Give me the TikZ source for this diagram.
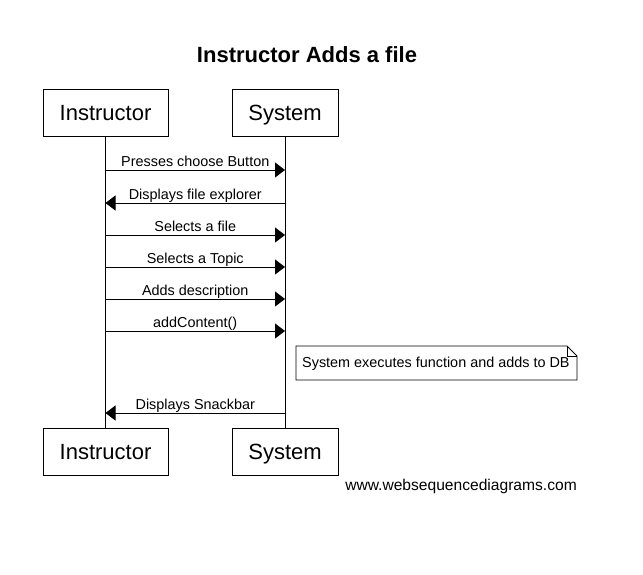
\documentclass[tikz,border=0pt]{standalone}
\usepackage{fontspec}
\setmainfont{Liberation Sans}
\usetikzlibrary{arrows.meta}
\begin{document}
\begin{tikzpicture}[x=1pt,y=-1pt,
  actor/.style={draw,line width=0.9pt,minimum height=47pt,font=\fontsize{22}{24}\selectfont,inner sep=0pt,text height=15pt,text depth=0pt},
  life/.style={line width=0.9pt},
  msg/.style={line width=0.9pt,-{Triangle[length=10pt,width=15pt]}},
  lbl/.style={font=\fontsize{14.4}{16}\selectfont,inner sep=0pt,anchor=base}]
\useasboundingbox (0,0) rectangle (643,574);
\node[font=\bfseries\fontsize{22}{24}\selectfont,anchor=base] (title) at (307,62) {Instructor Adds a file};
\node[actor,minimum width=125pt] (it) at (105.5,112.5) {Instructor};
\node[actor,minimum width=106pt] (st) at (285,112.5) {System};
\node[actor,minimum width=125pt] (ib) at (105.5,451.5) {Instructor};
\node[actor,minimum width=106pt] (sb) at (285,451.5) {System};
\draw[life] (it.south) -- (ib.north);
\draw[life] (st.south) -- (sb.north);
% messages
\foreach \n/\y in {m1/170,m2/203,m3/235,m4/267,m5/299,m6/331,m7/413}{
  \coordinate (\n i) at (105.5,\y);
  \coordinate (\n s) at (285,\y);
}
\draw[msg] (m1i) -- (m1s) node[lbl,midway,yshift=3.5pt] (l1) {Presses choose Button};
\draw[msg] (m2s) -- (m2i) node[lbl,midway,yshift=3.5pt] (l2) {Displays file explorer};
\draw[msg] (m3i) -- (m3s) node[lbl,midway,yshift=3.5pt] (l3) {Selects a file};
\draw[msg] (m4i) -- (m4s) node[lbl,midway,yshift=3.5pt] (l4) {Selects a Topic};
\draw[msg] (m5i) -- (m5s) node[lbl,midway,yshift=3.5pt] (l5) {Adds description};
\draw[msg] (m6i) -- (m6s) node[lbl,midway,yshift=3.5pt] (l6) {addContent()};
\draw[msg] (m7s) -- (m7i) node[lbl,midway,yshift=3.5pt] (l7) {Displays Snackbar};
% note
\draw[line width=0.9pt] (296,346) -- (567,346) -- (577,356) -- (577,380) -- (296,380) -- cycle;
\draw[line width=0.9pt] (567,346) -- (567,356) -- (577,356);
\node[font=\fontsize{14.4}{16}\selectfont,anchor=base west,inner sep=0pt] (note) at (302,367) {System executes function and adds to DB};
\node[font=\fontsize{15.6}{17}\selectfont,anchor=base east,inner sep=0pt] (wm) at (577,490) {www.websequencediagrams.com};
\end{tikzpicture}
\end{document}
